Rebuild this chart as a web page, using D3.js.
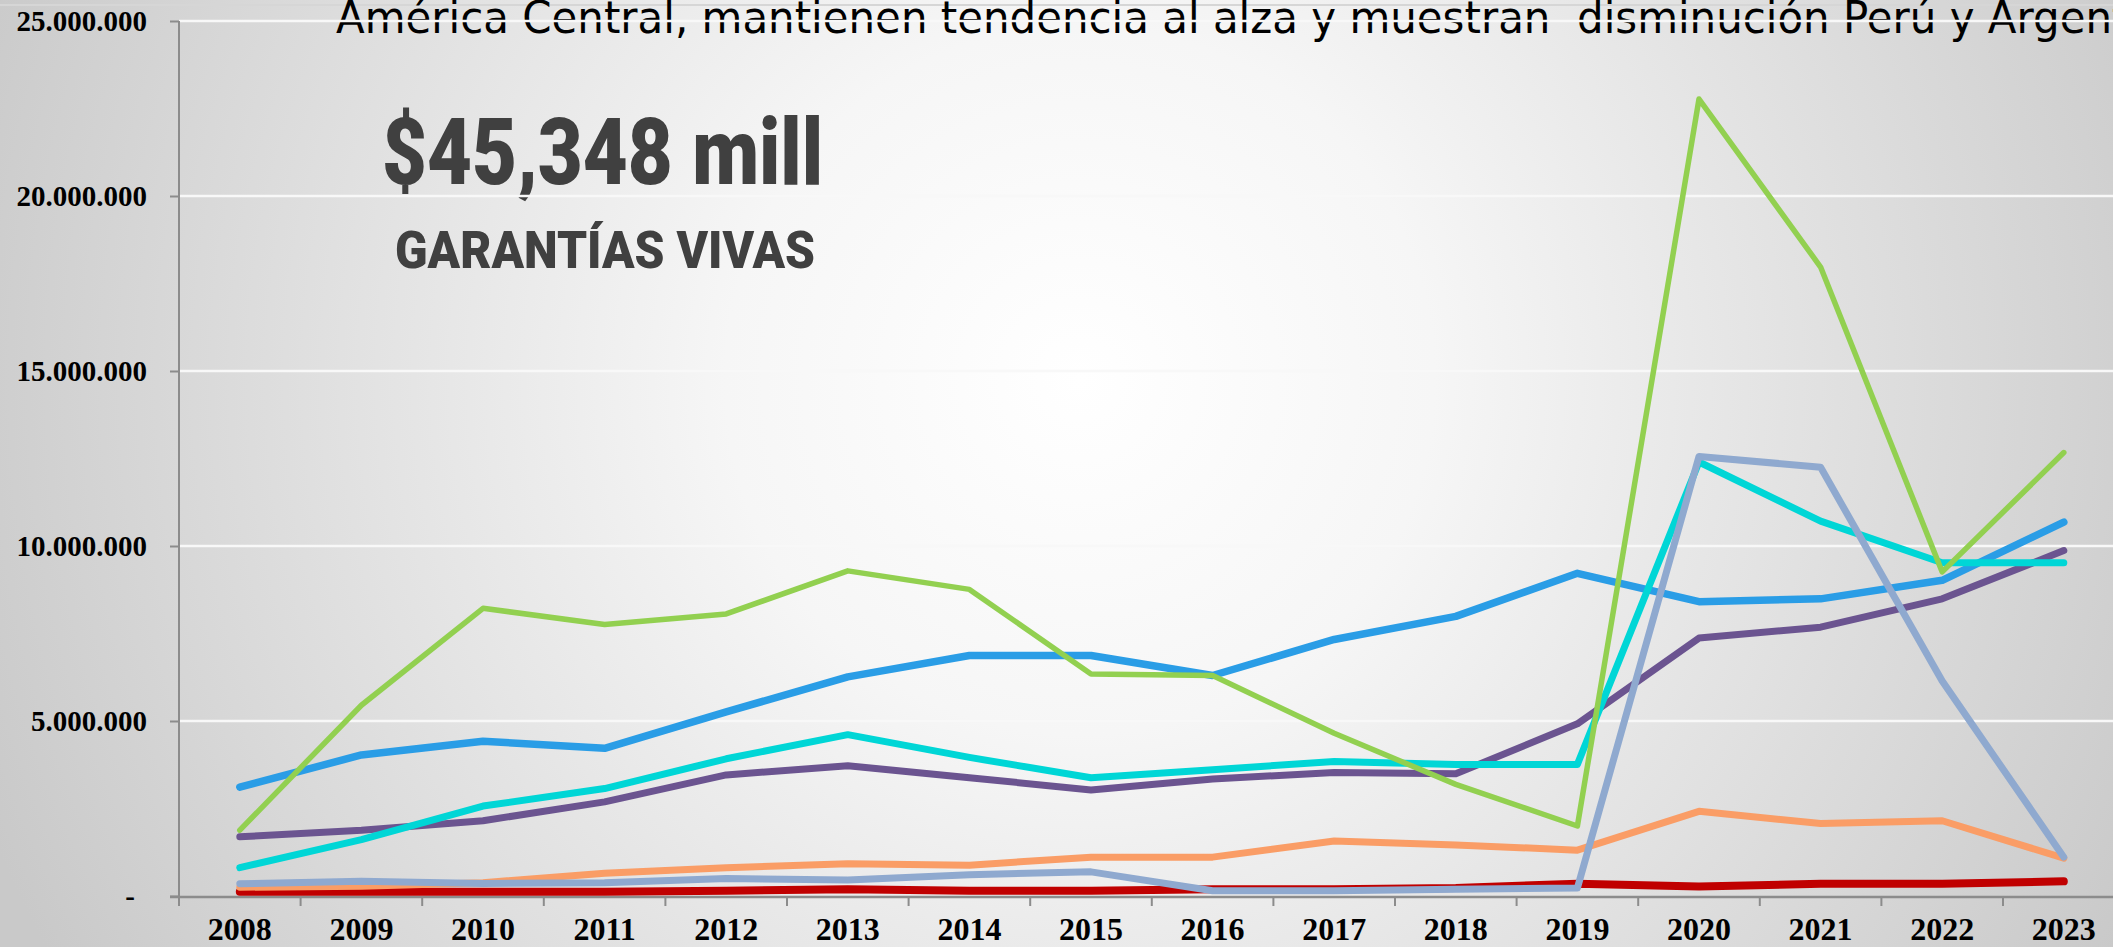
<!DOCTYPE html>
<html>
<head>
<meta charset="utf-8">
<script src="https://cdn.jsdelivr.net/npm/d3@7"></script>
<style>
  html, body { margin: 0; padding: 0; overflow: hidden; background: #d0d0d0; }
  svg { display: block; }
</style>
</head>
<body>
<svg class="chart" width="2113" height="947"></svg>
<script>
const years = ['2008','2009','2010','2011','2012','2013','2014','2015','2016','2017','2018','2019','2020','2021','2022','2023']
const yTicks = [0, 5e6, 10e6, 15e6, 20e6, 25e6]

// values
const rojo    = [0.12e6,0.12e6,0.12e6,0.12e6,0.15e6,0.19e6,0.15e6,0.15e6,0.19e6,0.19e6,0.23e6,0.35e6,0.27e6,0.35e6,0.35e6,0.42e6]
const naranja = [0.25e6,0.28e6,0.38e6,0.65e6,0.81e6,0.92e6,0.88e6,1.11e6,1.11e6,1.57e6,1.46e6,1.31e6,2.42e6,2.07e6,2.15e6,1.08e6]
const morado  = [1.69e6,1.88e6,2.15e6,2.69e6,3.46e6,3.72e6,3.38e6,3.03e6,3.34e6,3.53e6,3.49e6,4.92e6,7.37e6,7.68e6,8.49e6,9.87e6]
const azul    = [3.11e6,4.03e6,4.42e6,4.22e6,5.26e6,6.26e6,6.87e6,6.87e6,6.30e6,7.33e6,7.99e6,9.22e6,8.41e6,8.49e6,9.02e6,10.68e6]
const cian    = [0.81e6,1.61e6,2.57e6,3.07e6,3.92e6,4.61e6,3.96e6,3.38e6,3.61e6,3.84e6,3.76e6,3.76e6,12.40e6,10.71e6,9.52e6,9.52e6]
const verde   = [1.88e6,5.45e6,8.22e6,7.76e6,8.06e6,9.29e6,8.76e6,6.34e6,6.30e6,4.65e6,3.19e6,2.00e6,22.77e6,17.97e6,9.26e6,12.67e6]
const celeste = [0.35e6,0.42e6,0.36e6,0.38e6,0.50e6,0.46e6,0.61e6,0.69e6,0.15e6,0.15e6,0.19e6,0.23e6,12.56e6,12.25e6,6.14e6,1.11e6]

const series = [
  {name: 'rojo', values: rojo, color: '#c00000', width: 8},
  {name: 'naranja', values: naranja, color: '#fa9d66', width: 7},
  {name: 'morado', values: morado, color: '#6b5490', width: 7},
  {name: 'azul', values: azul, color: '#2a9de6', width: 7.5},
  {name: 'cian', values: cian, color: '#00d6d6', width: 7},
  {name: 'verde', values: verde, color: '#92d050', width: 5.5},
  {name: 'celeste', values: celeste, color: '#8fa9cf', width: 7}
]

const svg = d3.select('.chart')
const plotLeft = 179, plotBottom = 896, plotTop = 21
const band = 121.6

const x = d3.scaleBand(years, [plotLeft, plotLeft + band * years.length])
const y = d3.scaleLinear([0, 25e6], [plotBottom, plotTop])

// background
const defs = svg.append('defs')
const grad = defs.append('radialGradient')
    .attr('id', 'bg')
    .attr('gradientUnits', 'userSpaceOnUse')
    .attr('cx', 1080).attr('cy', 380).attr('r', 1180)
grad.append('stop').attr('offset', 0).attr('stop-color', '#ffffff')
grad.append('stop').attr('offset', 0.3).attr('stop-color', '#f6f6f6')
grad.append('stop').attr('offset', 1).attr('stop-color', '#c9c9c9')
svg.append('rect').attr('width', 2113).attr('height', 947).attr('fill', 'url(#bg)')

svg.append('line')
    .attr('x1', 0).attr('x2', 2113).attr('y1', 5).attr('y2', 5)
    .attr('stroke', '#d6d6d6').attr('stroke-width', 2)

// title (cut off at the top edge)
const titleText = 'América Central, mantienen tendencia al alza y muestran  disminución Perú y Argentina'
const visible = 'América Central, mantienen tendencia al alza y muestran  disminución Perú y Argen'
const title = svg.append('text')
    .attr('x', 336).attr('y', 33)
    .style('white-space', 'pre')
    .attr('font-family', 'DejaVu Sans')
    .attr('font-size', 44)
    .attr('fill', '#000')
    .text(visible)
const k = (2112 - 336) / title.node().getComputedTextLength()
title.text(titleText)
title.attr('textLength', title.node().getComputedTextLength() * k)
    .attr('lengthAdjust', 'spacingAndGlyphs')

// big labels
svg.append('text')
    .attr('x', 382).attr('y', 184)
    .attr('font-family', 'Roboto').attr('font-weight', 900)
    .attr('font-size', 93)
    .attr('fill', '#404040')
    .attr('textLength', 441).attr('lengthAdjust', 'spacingAndGlyphs')
    .text('$45,348 mill')

svg.append('text')
    .attr('x', 395).attr('y', 268)
    .attr('font-family', 'Roboto').attr('font-weight', 900)
    .attr('font-size', 51)
    .attr('fill', '#404040')
    .attr('textLength', 420).attr('lengthAdjust', 'spacingAndGlyphs')
    .text('GARANTÍAS VIVAS')

// gridlines
svg.append('g')
    .selectAll('line')
    .data(yTicks.filter(d => d > 0))
    .join('line')
        .attr('x1', plotLeft).attr('x2', 2113)
        .attr('y1', d => y(d)).attr('y2', d => y(d))
        .attr('stroke', '#f8f8f8')
        .attr('stroke-width', 2.5)

// y axis
const yAxis = d3.axisLeft(y)
    .tickValues(yTicks)
    .tickSize(9)
    .tickPadding(23)
    .tickFormat(d => d === 0 ? '-' : d3.format(',')(d).replace(/,/g, '.'))

const gy = svg.append('g')
    .attr('transform', `translate(${plotLeft}, 0)`)
    .call(yAxis)
gy.select('.domain').attr('stroke', '#8c8c8c').attr('stroke-width', 2).attr('d', `M0,${plotTop}V${plotBottom}`)
gy.selectAll('.tick line').attr('stroke', '#8c8c8c').attr('stroke-width', 2)
gy.selectAll('.tick text')
    .attr('font-family', 'Liberation Serif')
    .attr('font-weight', 'bold')
    .attr('font-size', 29)
    .attr('fill', '#000')
gy.selectAll('.tick').filter(d => d === 0).select('text').attr('dx', -12)

// x axis
const xAxis = d3.axisBottom(x).tickSize(0).tickPadding(0)
const gx = svg.append('g')
    .attr('transform', `translate(0, ${plotBottom + 1})`)
    .call(xAxis)
gx.select('.domain').attr('stroke', '#8c8c8c').attr('stroke-width', 2.5).attr('d', `M${plotLeft - 9},0H2113`)
gx.selectAll('.tick text')
    .attr('y', 43).attr('dy', 0)
    .attr('font-family', 'Liberation Serif')
    .attr('font-weight', 'bold')
    .attr('font-size', 32)
    .attr('fill', '#000')
gx.append('g')
    .selectAll('line')
    .data(years)
    .join('line')
        .attr('x1', d => x(d)).attr('x2', d => x(d))
        .attr('y1', 0).attr('y2', 9)
        .attr('stroke', '#8c8c8c').attr('stroke-width', 2)

// lines
const line = d3.line()
    .x((d, i) => x(years[i]) + x.bandwidth() / 2)
    .y(d => y(d))

svg.append('g')
    .selectAll('path')
    .data(series)
    .join('path')
        .attr('d', d => line(d.values))
        .attr('fill', 'none')
        .attr('stroke', d => d.color)
        .attr('stroke-width', d => d.width)
        .attr('stroke-linecap', 'round')
        .attr('stroke-linejoin', 'round')
</script>
</body>
</html>
